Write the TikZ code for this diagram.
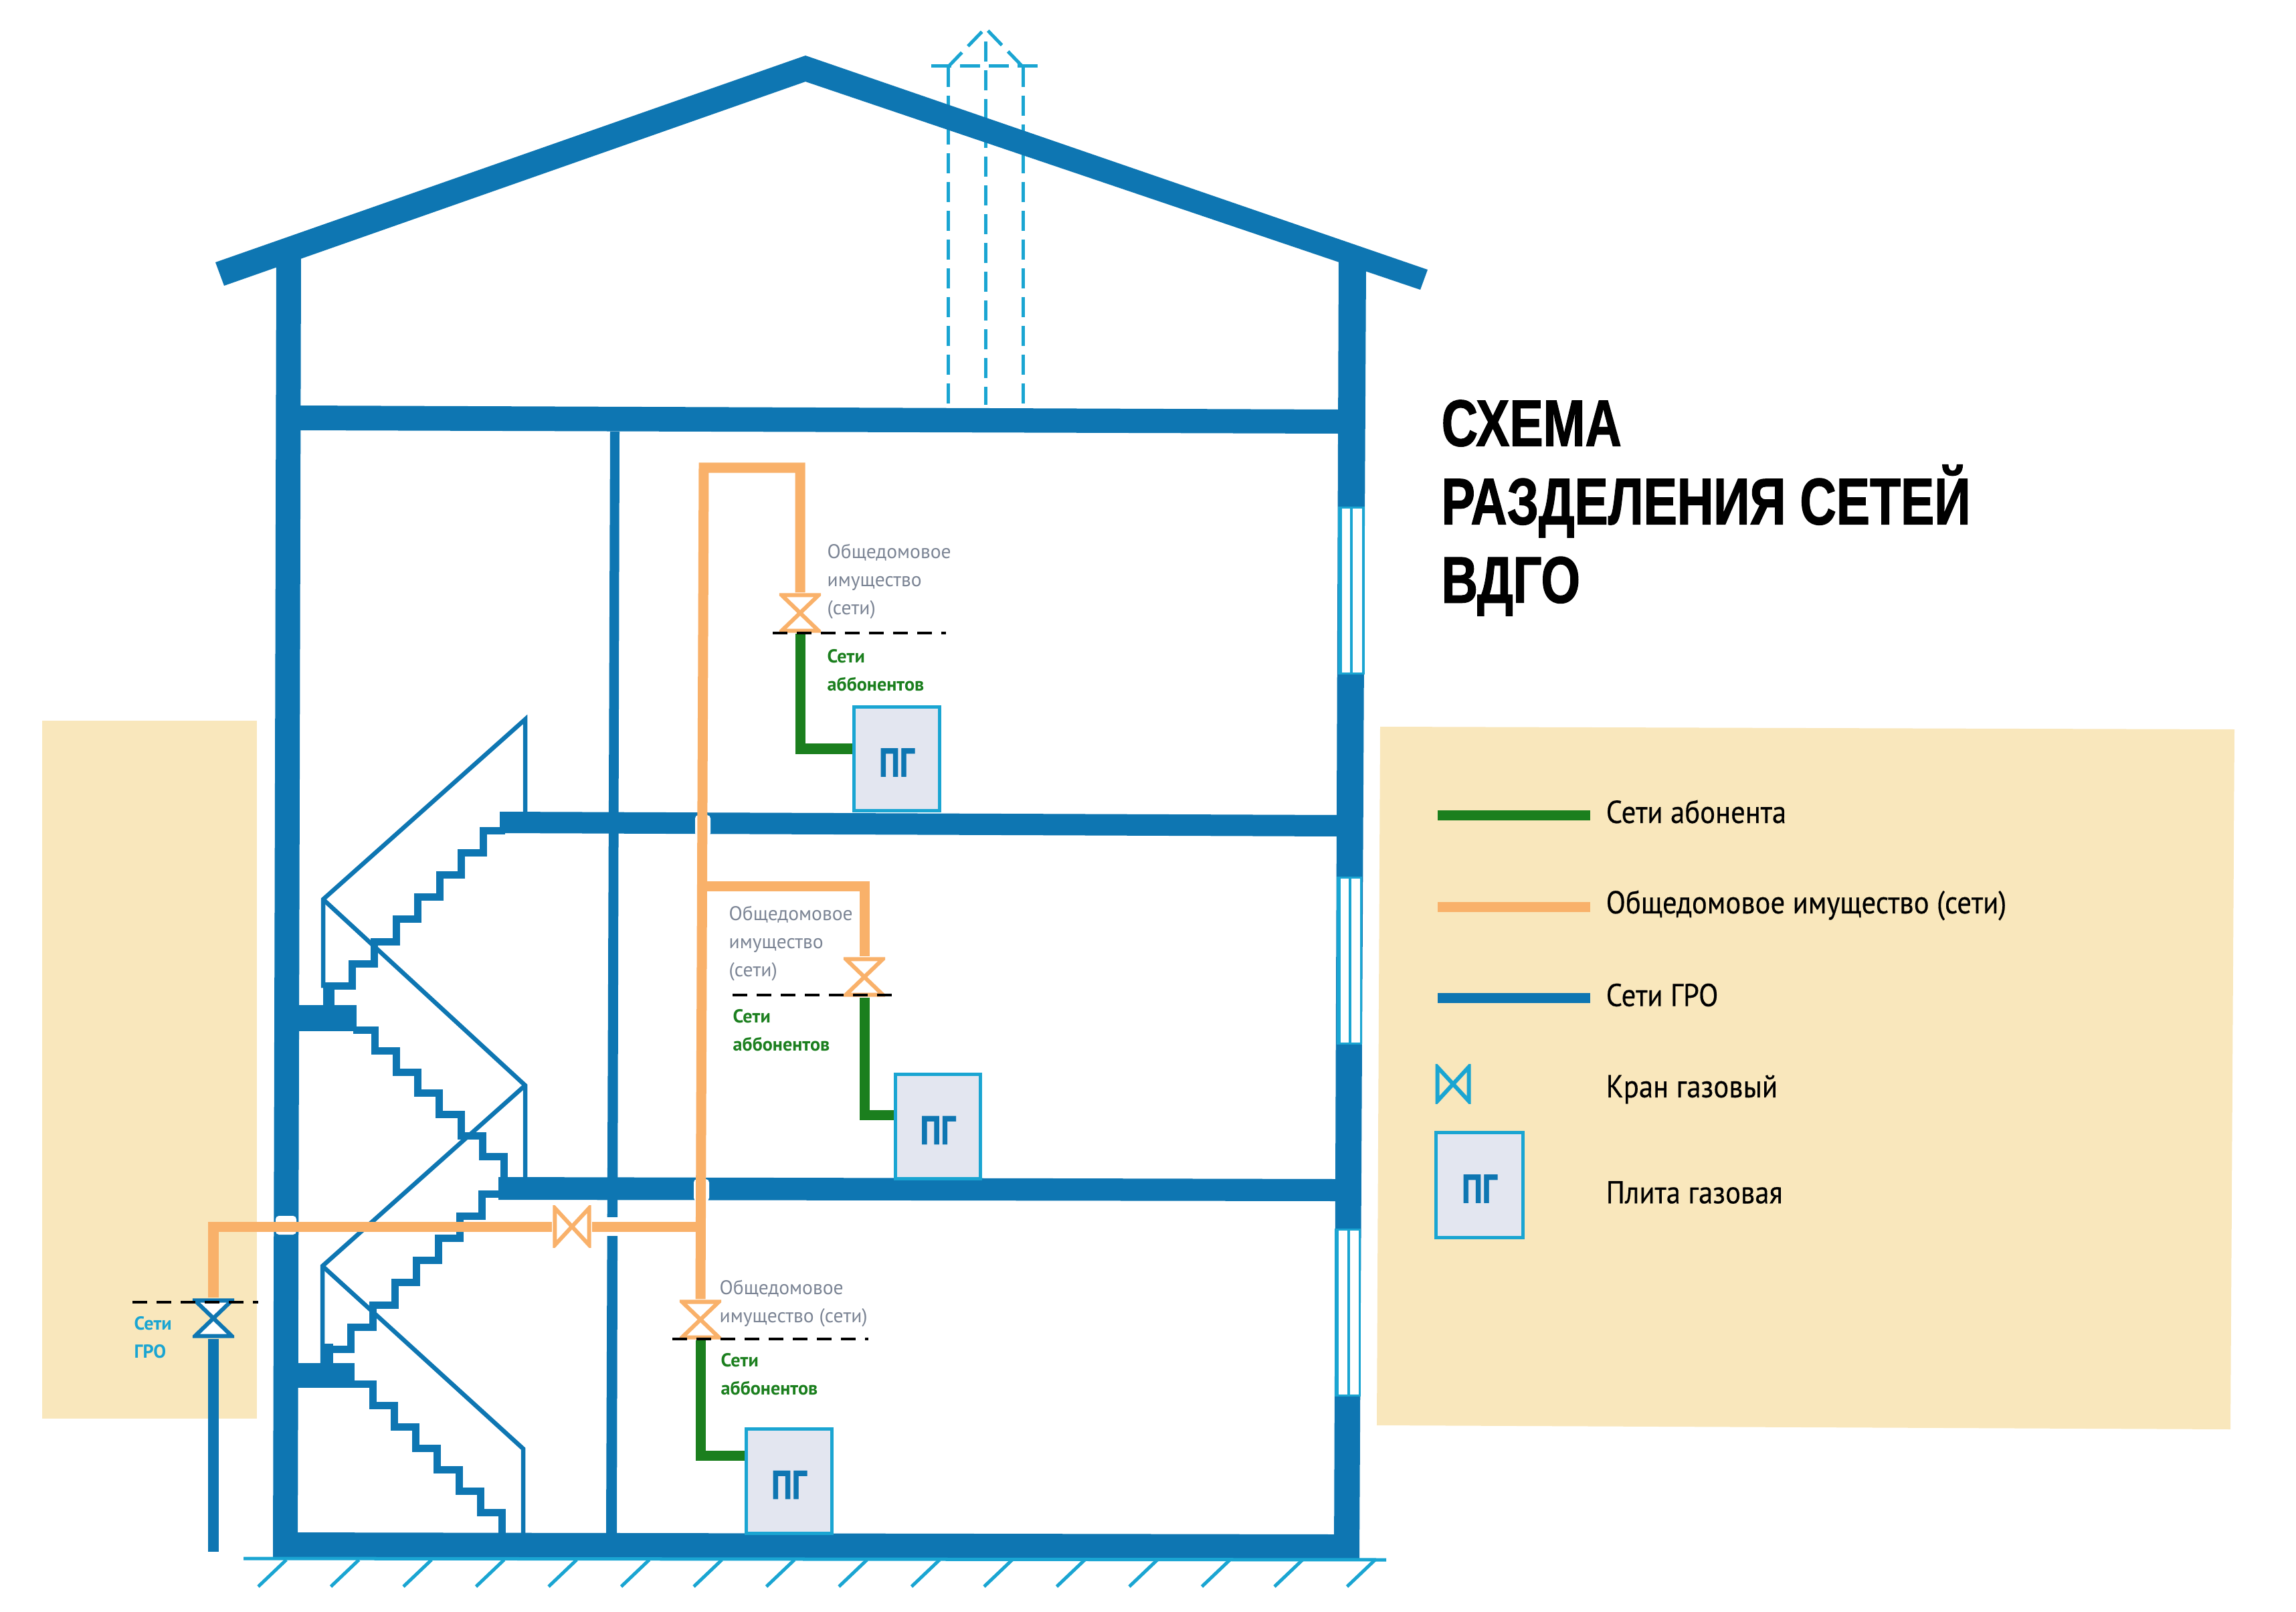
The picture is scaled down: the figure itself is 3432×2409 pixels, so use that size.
\documentclass[tikz,border=0pt]{standalone}
\usepackage{fontspec}
\usepackage{tikz}
\usetikzlibrary{positioning}
\newfontfamily\labelfont{PT Sans}
\newfontfamily\legendfont[FakeStretch=0.9,FakeBold=0.3]{PT Sans}
\newfontfamily\stovefont[FakeStretch=0.8,FakeBold=1.5]{PT Sans}
\newfontfamily\titlefont[FakeStretch=0.765,FakeBold=1.2]{Liberation Sans}
\definecolor{gasblue}{HTML}{0E76B2}
\definecolor{gascyan}{HTML}{1AA5D2}
\definecolor{gasorange}{HTML}{F9B16A}
\definecolor{gasgreen}{HTML}{1B7F1E}
\definecolor{panelbeige}{HTML}{F9E7BC}
\definecolor{stovefill}{HTML}{E3E6F0}
\definecolor{notegrey}{HTML}{7B8494}
\tikzset{
  wallpart/.style={fill=gasblue},
  thinwall/.style={draw=gasblue,line width=0.065cm},
  stairline/.style={draw=gasblue,line width=0.11cm,line join=miter},
  hatchline/.style={draw=gascyan,line width=0.05cm},
  chimneyline/.style={draw=gascyan,line width=0.05cm,dash pattern=on 0.3cm off 0.13cm},
  borderline/.style={draw=black,line width=0.035cm,dash pattern=on 0.22cm off 0.14cm},
  orangepipe/.style={draw=gasorange,line width=0.15cm},
  greenpipe/.style={draw=gasgreen,line width=0.15cm},
  bluepipe/.style={draw=gasblue,line width=0.15cm},
  stovebox/.style={draw=gascyan,fill=stovefill,line width=0.05cm,minimum width=1.27cm,minimum height=1.55cm,
    text=gasblue,text height=15pt,font=\stovefont\bfseries\fontsize{17}{17}\selectfont,inner sep=0pt},
  notetext/.style={anchor=west,align=left,inner sep=0pt,text=notegrey,font=\labelfont\fontsize{8.4}{12}\selectfont},
  greentext/.style={anchor=west,align=left,inner sep=0pt,text=gasgreen,font=\labelfont\bfseries\fontsize{8}{12}\selectfont},
  legendtext/.style={anchor=west,inner sep=0pt,font=\legendfont\fontsize{13.5}{15}\selectfont},
  valveup/.style={inner sep=0pt,minimum width=0.62cm,minimum height=0.6cm,path picture={
    \draw[#1,line width=0.06cm,line join=miter]
      ([xshift=0.035cm,yshift=-0.035cm]path picture bounding box.north west) --
      ([xshift=-0.035cm,yshift=-0.035cm]path picture bounding box.north east) --
      ([xshift=0.035cm,yshift=0.035cm]path picture bounding box.south west) --
      ([xshift=-0.035cm,yshift=0.035cm]path picture bounding box.south east) -- cycle;}},
  valveflat/.style={inner sep=0pt,minimum width=0.58cm,minimum height=0.62cm,path picture={
    \draw[#1,line width=0.06cm,line join=miter]
      ([xshift=0.035cm,yshift=-0.035cm]path picture bounding box.north west) --
      ([xshift=0.035cm,yshift=0.035cm]path picture bounding box.south west) --
      ([xshift=-0.035cm,yshift=-0.035cm]path picture bounding box.north east) --
      ([xshift=-0.035cm,yshift=0.035cm]path picture bounding box.south east) -- cycle;}},
  flightleft/.pic={\draw[stairline] (0,0) \foreach \k in {1,...,7} { -- ++(-32.6,0) -- ++(0,33.2)} -- ++(-44,0);},
  flightright/.pic={\draw[stairline] (0,0) \foreach \k in {1,...,7} { -- ++(32.2,0) -- ++(0,#1)};}
}
\begin{document}
\begin{tikzpicture}[x=0.01cm,y=-0.01cm]
\useasboundingbox (0,0) rectangle (3432,2409);
\fill[panelbeige] (63,1077) rectangle (384,2120);
\fill[panelbeige] (2063,1086) -- (3340,1090) -- (3334,2136) -- (2058,2130) -- cycle;

\draw[chimneyline] (1417,100) -- (1417,605);
\draw[chimneyline] (1473,62) -- (1473,605);
\draw[chimneyline] (1529,100) -- (1529,605);
\draw[chimneyline] (1392,99) -- (1555,99);
\draw[chimneyline] (1417,100) -- (1473,42) -- (1529,100);

\fill[wallpart] (322,392) -- (1204,83) -- (2134,403) -- (2123,433) -- (1204,122) -- (335,427) -- cycle;
\fill[wallpart] (413,395) -- (450,385) -- (445,2330) -- (408,2330) -- cycle;
\fill[wallpart] (2001,380) -- (2042,395) -- (2032,2330) -- (1994,2330) -- cycle;
\fill[wallpart] (440,606) -- (2000,612) -- (2000,648) -- (440,643) -- cycle;
\fill[wallpart] (747,1213) -- (2000,1218) -- (2000,1250) -- (747,1245) -- cycle;
\fill[wallpart] (745,1759) -- (1997,1762) -- (1997,1795) -- (745,1793) -- cycle;
\fill[wallpart] (408,2290) -- (1995,2293) -- (1995,2330) -- (408,2329) -- cycle;
\fill[wallpart] (440,1502) rectangle (533,1541);
\fill[wallpart] (440,2037) rectangle (530,2074);
\fill[wallpart] (912,645) -- (926,645) -- (922,2292) -- (906,2292) -- cycle;

\draw[thinwall] (490,1473) -- (483,1473) -- (483,1344) -- (785,1075) -- (785,1216);
\draw[thinwall] (483,1344) -- (785,1622) -- (785,1760);
\draw[thinwall] (785,1622) -- (482,1892) -- (482,2040);
\draw[thinwall] (482,1892) -- (782,2165) -- (782,2293);
\pic at (755,1241) {flightleft};
\pic at (528,1539) {flightright=31.6};
\pic at (753,1784) {flightleft};
\pic at (525,2068) {flightright=32};
\fill[wallpart] (483,1470) rectangle (500,1502);
\fill[wallpart] (481,2008) rectangle (498,2037);

\foreach \i in {0,...,15}
  \draw[hatchline] (386+108.5*\i,2371) -- (428+108.5*\i,2331);
\draw[hatchline] (364,2329) -- (2072,2331);

\fill[gascyan] (2000,757) rectangle (2040,1008);
\fill[white] (2006,760) rectangle (2018,1005);
\fill[white] (2022,760) rectangle (2036,1005);
\fill[gascyan] (1998,1310) rectangle (2036,1561);
\fill[white] (2004,1313) rectangle (2016,1558);
\fill[white] (2020,1313) rectangle (2033,1558);
\fill[gascyan] (1995,1836) rectangle (2034,2087);
\fill[white] (2001,1839) rectangle (2014,2084);
\fill[white] (2018,1839) rectangle (2031,2084);

\fill[white,rounded corners=0.05cm] (1039,1218) rectangle (1062,1250);
\fill[white,rounded corners=0.05cm] (1037,1762) rectangle (1060,1795);
\fill[white,rounded corners=0.05cm] (412,1817) rectangle (443,1845);
\fill[white] (900,1819) rectangle (930,1847);

\node[stovebox] (stoveTop) at (1340.5,1134) {ПГ};
\node[stovebox] (stoveMid) at (1402,1683.5) {ПГ};
\node[stovebox] (stoveLow) at (1179.5,2213.5) {ПГ};
\node[valveup={draw=gasorange}] (valveTop) at (1196,916) {};
\node[valveup={draw=gasorange}] (valveMid) at (1292,1460) {};
\node[valveup={draw=gasorange}] (valveLow) at (1047,1972) {};
\node[valveup={draw=gasblue,fill=white}] (valveGro) at (319,1970) {};
\node[valveflat={draw=gasorange}] (valveMain) at (855,1833) {};
\coordinate (riserTop) at (1052,699);
\coordinate (branchMid) at (1050,1324);
\coordinate (branchLow) at (1049,1833);
\coordinate (groEnd) at (319,2319);

\draw[orangepipe] (valveLow.north) -- (riserTop) -| (valveTop.north);
\draw[orangepipe] (branchMid) -| (valveMid.north);
\draw[orangepipe] (valveGro.north) |- (valveMain.west);
\draw[orangepipe] (valveMain.east) -- (branchLow);
\draw[greenpipe] (valveTop.south) |- ([yshift=0.15cm]stoveTop.west);
\draw[greenpipe] (valveMid.south) |- ([yshift=0.17cm]stoveMid.west);
\draw[greenpipe] (valveLow.south) |- ([yshift=0.38cm]stoveLow.west);
\draw[bluepipe] (valveGro.south) -- (groEnd);

\draw[borderline] (1155,946) -- (1414,946);
\draw[borderline] (1095,1487) -- (1335,1487);
\draw[borderline] (1005,2001) -- (1298,2001);
\draw[borderline] (198,1946) -- (386,1946);

\node[notetext] (noteTop) at (1236,869) {Общедомовое\\имущество\\(сети)};
\node[notetext] (noteMid) at (1089,1410) {Общедомовое\\имущество\\(сети)};
\node[notetext] (noteLow) at (1075,1948) {Общедомовое\\имущество (сети)};
\node[greentext] (greenTop) at (1236,1002) {Сети\\аббонентов};
\node[greentext] (greenMid) at (1095,1540) {Сети\\аббонентов};
\node[greentext] (greenLow) at (1077,2054) {Сети\\аббонентов};
\node[greentext,text=gascyan] (groText) at (200,1999) {Сети\\ГРО};

\node[anchor=west,align=left,inner sep=0pt,font=\titlefont\bfseries\fontsize{28}{33.3}\selectfont] (title) at (2154,759)
  {СХЕМА\\РАЗДЕЛЕНИЯ СЕТЕЙ\\ВДГО};

\coordinate (lineGreenA) at (2149,1218);
\coordinate (lineGreenB) at (2377,1218);
\coordinate (lineOrangeA) at (2149,1355);
\coordinate (lineOrangeB) at (2377,1355);
\coordinate (lineBlueA) at (2149,1491);
\coordinate (lineBlueB) at (2377,1491);
\draw[greenpipe] (lineGreenA) -- (lineGreenB);
\draw[orangepipe] (lineOrangeA) -- (lineOrangeB);
\draw[bluepipe] (lineBlueA) -- (lineBlueB);
\node[valveflat={draw=gascyan},minimum width=0.54cm,minimum height=0.58cm] (valveKey) at (2172,1620) {};
\node[stovebox,minimum width=1.29cm,minimum height=1.56cm] (stoveKey) at (2211.5,1771) {ПГ};
\node[legendtext] (textGreen) at (2400,1213) {Сети абонента};
\node[legendtext] (textOrange) at (2400,1353) {Общедомовое имущество (сети)};
\node[legendtext] (textBlue) at (2400,1487) {Сети ГРО};
\node[legendtext] (textValve) at (2400,1628) {Кран газовый};
\node[legendtext] (textStove) at (2400,1782) {Плита газовая};
\end{tikzpicture}
\end{document}
